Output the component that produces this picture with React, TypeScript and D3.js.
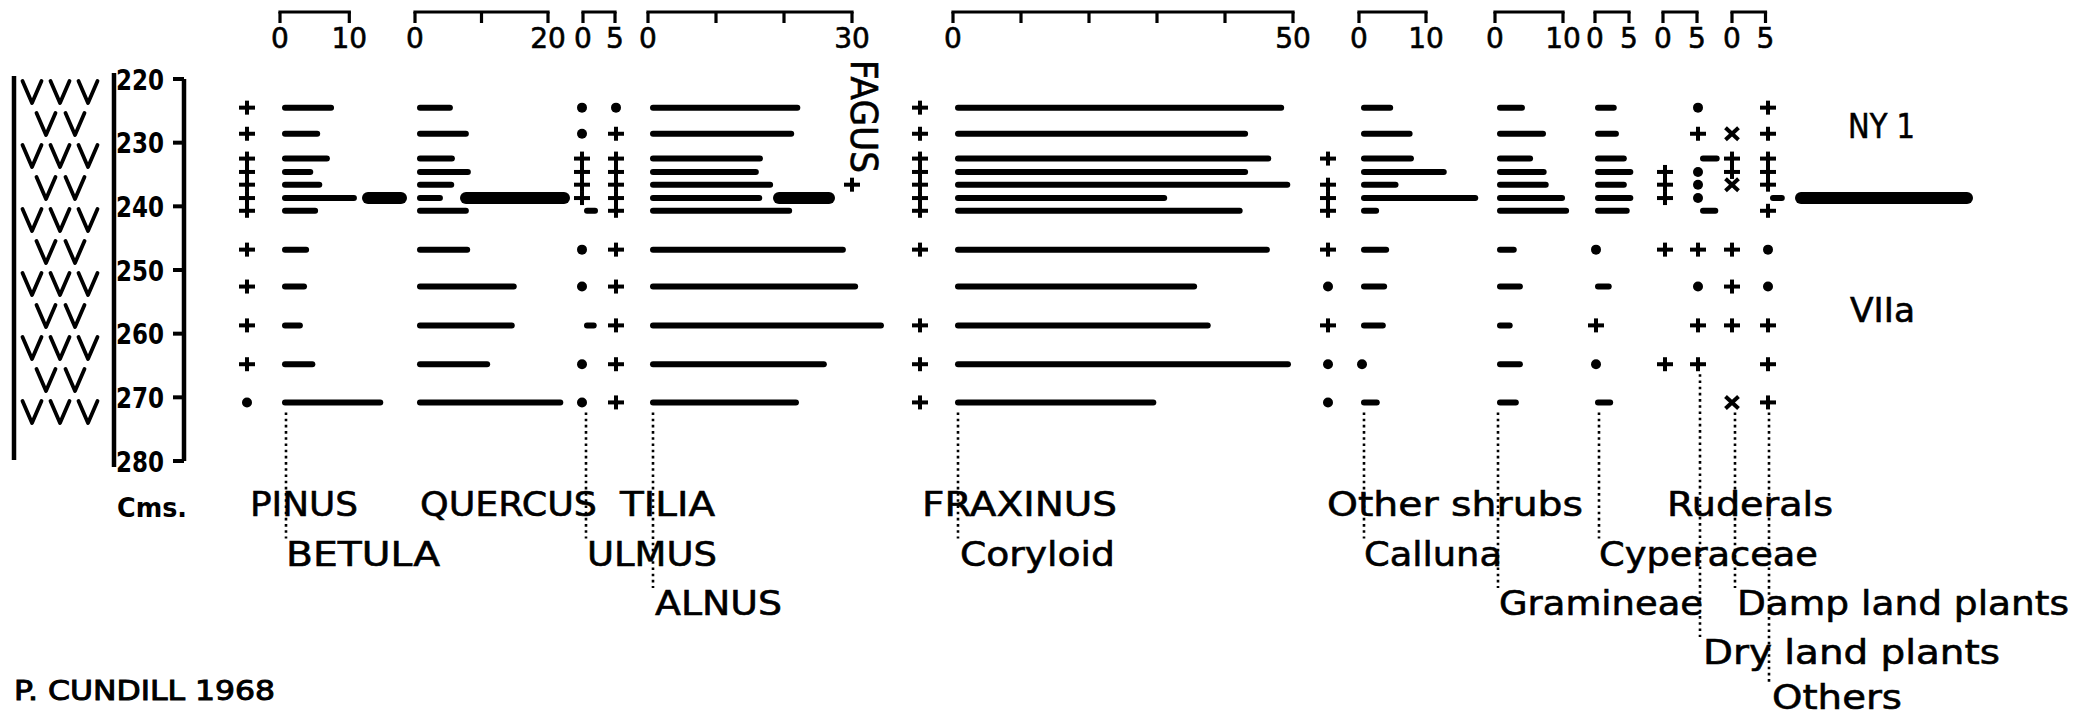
import React from "react";
import * as d3 from "d3";

type Cell = number | "+" | "•" | "x" | null;

// ---------- data ----------
const depths = [224.5, 228.6, 232.5, 234.6, 236.6, 238.7, 240.7, 246.8, 252.6, 258.7, 264.8, 270.8];
const depthTicks = [220, 230, 240, 250, 260, 270, 280];

const pinus: Cell[] = ["+", "+", "+", "+", "+", "+", "+", "+", "+", "+", "+", "•"];
const betula: Cell[] = [7.8, 5.8, 7.2, 4.8, 6.1, 11.1, 5.5, 4.2, 3.9, 3.3, 5.1, 14.9];
const quercus: Cell[] = [5.7, 8.1, 6.0, 8.4, 5.9, 4.2, 8.1, 8.3, 15.3, 15.0, 11.3, 22.3];
const ulmus: Cell[] = ["•", "•", "+", "+", "+", "+", 2.5, "•", "•", 2.3, "•", "•"];
const tilia: Cell[] = ["•", "+", "+", "+", "+", "+", "+", "+", "+", "+", "+", "+"];
const alnus: Cell[] = [22.4, 21.5, 16.9, 16.3, 18.4, 16.8, 21.2, 29.1, 30.9, 34.7, 26.3, 22.2];
const fagus: Cell[] = [null, null, null, null, "+", null, null, null, null, null, null, null];
const fraxinus: Cell[] = ["+", "+", "+", "+", "+", "+", "+", "+", null, "+", "+", "+"];
const coryloid: Cell[] = [48.7, 43.4, 46.8, 43.4, 49.6, 31.5, 42.6, 46.6, 35.9, 37.9, 49.7, 29.9];
const otherShrubs: Cell[] = [null, null, "+", null, "+", "+", "+", "+", "•", "+", "•", "•"];
const calluna: Cell[] = [5.1, 8.0, 8.2, 13.1, 5.9, 17.8, 3.0, 4.5, 4.2, 4.0, "•", 3.1];
const gramineae: Cell[] = [4.4, 7.5, 5.6, 7.6, 7.9, 10.3, 10.9, 3.2, 4.1, 2.6, 4.1, 3.5];
const cyperaceae: Cell[] = [3.3, 3.6, 4.7, 5.6, 4.7, 5.6, 5.1, "•", 2.6, "+", "•", 2.8];
const ruderals: Cell[] = [null, null, null, "+", "+", "+", null, "+", null, null, "+", null];
const dryLand: Cell[] = ["•", "+", 3.1, "•", "•", "•", 2.9, "+", "•", "+", "+", null];
const dampLand: Cell[] = [null, "x", "+", "+", "x", null, null, "+", "+", "+", null, "x"];
const others: Cell[] = ["+", "+", "+", "+", "+", 2.4, "+", "•", "•", "+", "+", "+"];

const scaleMaxima = [10, 20, 5, 30, 50, 10, 10, 5, 5, 5];
const scaleSteps = [10, 10, 5, 10, 10, 10, 10, 5, 5, 5];

const labelNames = [
  "PINUS", "QUERCUS", "TILIA", "FRAXINUS", "Other shrubs", "Ruderals",
  "BETULA", "ULMUS", "Coryloid", "Calluna", "Cyperaceae",
  "ALNUS", "Gramineae", "Damp land plants",
  "Dry land plants",
  "Others",
];

// ---------- layout ----------
const FONT = "'DejaVu Sans', 'Liberation Sans', sans-serif";
const yScale = d3.scaleLinear().domain([220, 280]).range([79, 461]);

const columns: { values: Cell[]; x0: number; k: number; symOff: number }[] = [
  { values: pinus, x0: 247, k: 7, symOff: 0 },
  { values: betula, x0: 280, k: 6.93, symOff: 3 },
  { values: quercus, x0: 415, k: 6.65, symOff: 3 },
  { values: ulmus, x0: 582, k: 6.4, symOff: 0 },
  { values: tilia, x0: 616, k: 6.4, symOff: 0 },
  { values: alnus, x0: 648, k: 6.8, symOff: 3 },
  { values: fagus, x0: 852, k: 6.8, symOff: 0 },
  { values: fraxinus, x0: 920, k: 6.8, symOff: 0 },
  { values: coryloid, x0: 953, k: 6.8, symOff: 3 },
  { values: otherShrubs, x0: 1328, k: 6.8, symOff: 0 },
  { values: calluna, x0: 1359, k: 6.7, symOff: 3 },
  { values: gramineae, x0: 1495, k: 6.8, symOff: 3 },
  { values: cyperaceae, x0: 1593, k: 7.2, symOff: 3 },
  { values: ruderals, x0: 1665, k: 7, symOff: 0 },
  { values: dryLand, x0: 1698, k: 7, symOff: 0 },
  { values: dampLand, x0: 1732, k: 7, symOff: 0 },
  { values: others, x0: 1768, k: 7, symOff: 0 },
];

const brackets = [
  { x0: 280, k: 6.93 },
  { x0: 415, k: 6.65 },
  { x0: 583, k: 6.4 },
  { x0: 648, k: 6.8 },
  { x0: 953, k: 6.8 },
  { x0: 1359, k: 6.7 },
  { x0: 1495, k: 6.8 },
  { x0: 1595, k: 6.8 },
  { x0: 1663, k: 6.8 },
  { x0: 1732, k: 6.7 },
];

const labelLayout = [
  { x: 250, y: 516, w: 108 },
  { x: 420, y: 516, w: 177 },
  { x: 620, y: 516, w: 95 },
  { x: 922, y: 516, w: 195 },
  { x: 1327, y: 516, w: 256 },
  { x: 1667, y: 516, w: 166 },
  { x: 286, y: 565.5, w: 154 },
  { x: 587, y: 565.5, w: 130 },
  { x: 960, y: 565.5, w: 155 },
  { x: 1364, y: 565.5, w: 138 },
  { x: 1599, y: 565.5, w: 219 },
  { x: 655, y: 615, w: 127 },
  { x: 1499, y: 615, w: 204 },
  { x: 1737, y: 615, w: 332 },
  { x: 1703, y: 664, w: 297 },
  { x: 1772, y: 709, w: 130 },
];

// leaders: column index, x, label index reached
const leaders = [
  { col: 1, x: 286, label: 6 },
  { col: 3, x: 586, label: 7 },
  { col: 5, x: 653, label: 11 },
  { col: 8, x: 958, label: 8 },
  { col: 10, x: 1364, label: 9 },
  { col: 11, x: 1498, label: 12 },
  { col: 12, x: 1599, label: 10 },
  { col: 14, x: 1700, label: 14 },
  { col: 15, x: 1735, label: 13 },
  { col: 16, x: 1769, label: 15 },
];

const HORIZON_ROW = 5;
const horizonSegments = [
  [362, 407],
  [460, 570],
  [773, 835],
  [1795, 1973],
];

function Symbol({ s, x, y }: { s: string; x: number; y: number }) {
  if (s === "+") {
    return (
      <g stroke="#000" strokeWidth={4}>
        <line x1={x - 8} x2={x + 8} y1={y} y2={y} />
        <line x1={x} x2={x} y1={y - 7} y2={y + 7} />
      </g>
    );
  }
  if (s === "•") return <circle cx={x} cy={y} r={5} fill="#000" />;
  if (s === "x") {
    return (
      <g stroke="#000" strokeWidth={4}>
        <line x1={x - 6.5} x2={x + 6.5} y1={y - 6} y2={y + 6} />
        <line x1={x - 6.5} x2={x + 6.5} y1={y + 6} y2={y - 6} />
      </g>
    );
  }
  return null;
}

export default function App() {
  const rowsY = depths.map((d) => yScale(d));

  // stratigraphy V pattern
  const vMarks: { cx: number; cy: number }[] = [];
  for (let i = 0; i < 11; i++) {
    const cy = 92 + i * 32;
    const xs = i % 2 === 0 ? [32, 60, 88] : [46, 75];
    xs.forEach((cx) => vMarks.push({ cx, cy }));
  }

  const txt = { stroke: "#000", strokeWidth: 0.6 };

  return (
    <svg
      width={2073}
      height={717}
      style={{ position: "absolute", left: 0, top: 0, display: "block", background: "#fff" }}
      fontFamily={FONT}
    >
      <rect x={0} y={0} width={2073} height={717} fill="#fff" />

      {/* stratigraphy column */}
      <line x1={14} x2={14} y1={76} y2={460} stroke="#000" strokeWidth={4.5} />
      <line x1={114} x2={114} y1={73} y2={467} stroke="#000" strokeWidth={4.5} />
      {vMarks.map((v, i) => (
        <path
          key={"v" + i}
          d={`M${v.cx - 9.5},${v.cy - 11}L${v.cx},${v.cy + 11}L${v.cx + 9.5},${v.cy - 11}`}
          fill="none"
          stroke="#000"
          strokeWidth={3.8}
          strokeLinecap="round"
          strokeLinejoin="round"
        />
      ))}

      {/* depth axis */}
      <line x1={184} x2={184} y1={yScale(220)} y2={yScale(280)} stroke="#000" strokeWidth={4.5} />
      {depthTicks.map((t) => (
        <g key={"dt" + t}>
          <line x1={173} x2={184} y1={yScale(t)} y2={yScale(t)} stroke="#000" strokeWidth={4} />
          <text
            x={116}
            y={yScale(t) + 10.5}
            fontSize={29}
            fontWeight="bold"
            textLength={48}
            lengthAdjust="spacingAndGlyphs"
          >
            {t}
          </text>
        </g>
      ))}
      <text x={117} y={517} fontSize={27} fontWeight="bold" textLength={70} lengthAdjust="spacingAndGlyphs">
        Cms.
      </text>

      {/* scale brackets */}
      {brackets.map((b, i) => {
        const max = scaleMaxima[i];
        const xs = d3.scaleLinear().domain([0, max]).range([b.x0, b.x0 + max * b.k]);
        const ticks = d3.range(0, max + 0.001, scaleSteps[i]);
        return (
          <g key={"br" + i}>
            <line x1={xs(0)} x2={xs(max)} y1={12} y2={12} stroke="#000" strokeWidth={3.2} strokeLinecap="square" />
            {ticks.map((t) => (
              <line key={t} x1={xs(t)} x2={xs(t)} y1={12} y2={23} stroke="#000" strokeWidth={3.2} />
            ))}
            {[0, max].map((t) => (
              <text key={"l" + t} x={xs(t)} y={48} fontSize={28} textAnchor="middle" {...txt}>
                {t}
              </text>
            ))}
          </g>
        );
      })}

      {/* columns */}
      {columns.map((c, ci) => {
        const xs = d3.scaleLinear().domain([0, 1]).range([c.x0, c.x0 + c.k]);
        return (
          <g key={"c" + ci}>
            {c.values.map((v, ri) => {
              const y = rowsY[ri];
              if (v === null) return null;
              if (typeof v === "number") {
                const start = c.x0 + 2 + 3;
                const end = Math.max(start, xs(v) - 3);
                return (
                  <line
                    key={ri}
                    x1={start}
                    x2={end}
                    y1={y}
                    y2={y}
                    stroke="#000"
                    strokeWidth={6}
                    strokeLinecap="round"
                  />
                );
              }
              return <Symbol key={ri} s={v} x={c.x0 + c.symOff} y={y} />;
            })}
          </g>
        );
      })}

      {/* horizon line */}
      {horizonSegments.map(([a, b], i) => (
        <line
          key={"h" + i}
          x1={a + 6}
          x2={b - 6}
          y1={rowsY[HORIZON_ROW]}
          y2={rowsY[HORIZON_ROW]}
          stroke="#000"
          strokeWidth={12}
          strokeLinecap="round"
        />
      ))}

      {/* Fagus label */}
      <text
        transform={`translate(851,60) rotate(90)`}
        fontSize={37}
        textLength={113}
        lengthAdjust="spacingAndGlyphs"
        {...txt}
      >
        FAGUS
      </text>

      {/* leaders */}
      {leaders.map((l, i) => {
        const vals = columns[l.col].values;
        let last = 0;
        vals.forEach((v, ri) => {
          if (v !== null) last = ri;
        });
        const y1 = rowsY[last] + 10;
        const y2 = labelLayout[l.label].y - 27;
        return (
          <line
            key={"ld" + i}
            x1={l.x}
            x2={l.x}
            y1={y1}
            y2={y2}
            stroke="#000"
            strokeWidth={2.6}
            strokeDasharray="2.6 3.6"
          />
        );
      })}

      {/* labels */}
      {labelNames.map((name, i) => {
        const L = labelLayout[i];
        return (
          <text
            key={"lab" + i}
            x={L.x}
            y={L.y}
            fontSize={34}
            textLength={L.w}
            lengthAdjust="spacingAndGlyphs"
            {...txt}
          >
            {name}
          </text>
        );
      })}

      {/* zone labels */}
      <text x={1848} y={138} fontSize={34} textLength={67} lengthAdjust="spacingAndGlyphs" {...txt}>
        NY 1
      </text>
      <text x={1850} y={322} fontSize={34} textLength={65} lengthAdjust="spacingAndGlyphs" {...txt}>
        VIIa
      </text>

      <text x={14} y={700} fontSize={27} textLength={261} lengthAdjust="spacingAndGlyphs" stroke="#000" strokeWidth={1}>
        P. CUNDILL 1968
      </text>
    </svg>
  );
}
